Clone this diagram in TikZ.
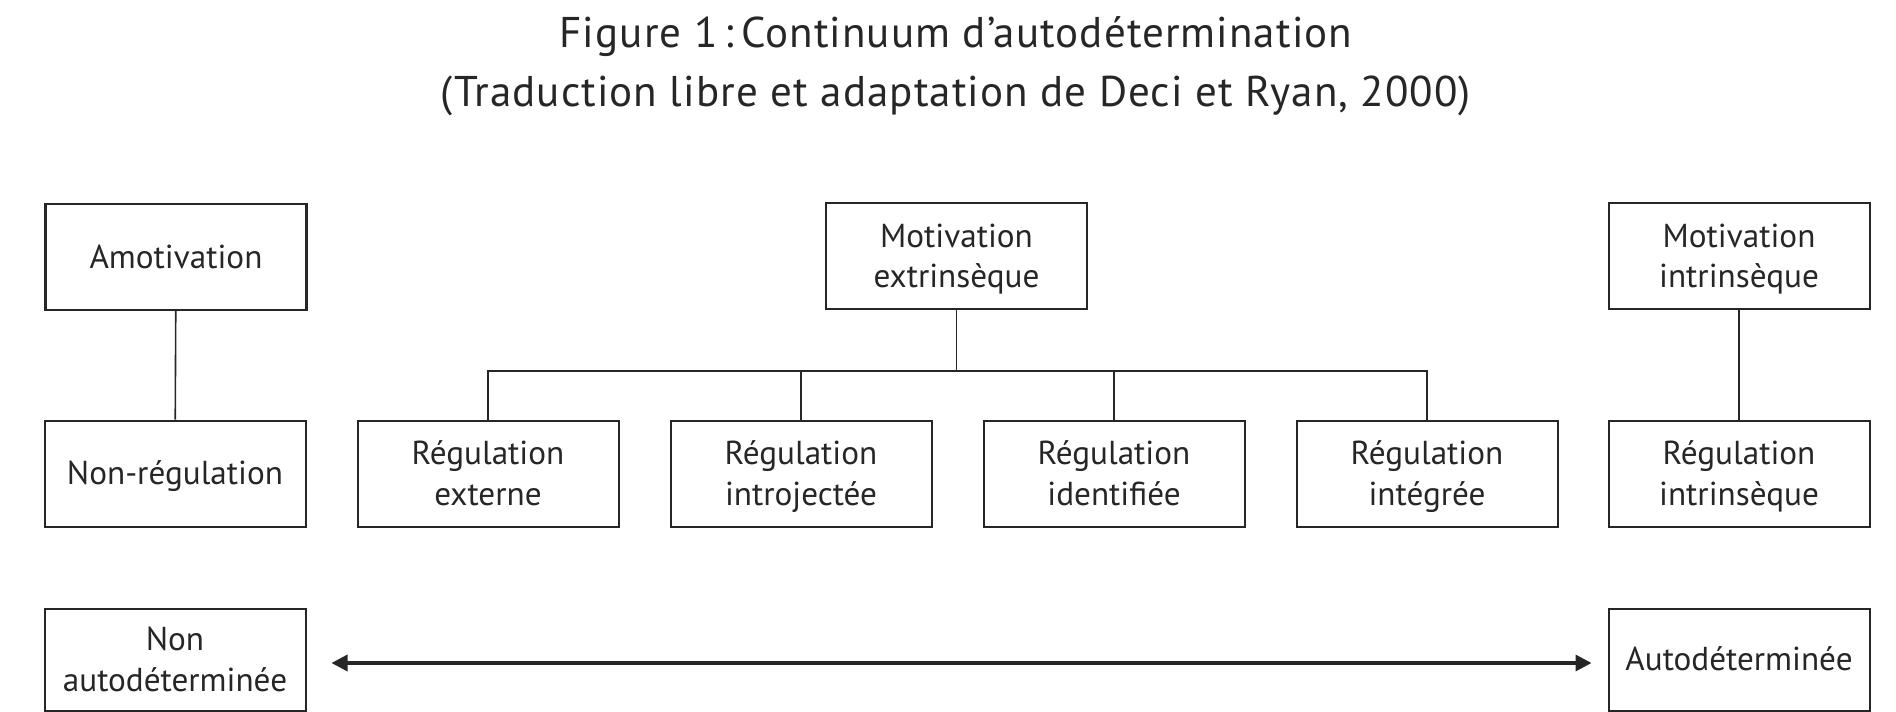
\documentclass[tikz,border=0pt]{standalone}
\usepackage{fontspec}
\setmainfont{PT Sans}
\newfontfamily\titlefont[LetterSpace=2.5]{PT Sans}
\usetikzlibrary{arrows.meta}
\definecolor{ink}{HTML}{262626}
% line strut, a little more above the baseline than below
\newcommand\vstrut{\rule[-0.22\baselineskip]{0pt}{\baselineskip}}
\newcommand\lines[2]{\vstrut#1\\\vstrut#2}
\begin{document}
\begin{tikzpicture}[x=0.5pt,y=-0.5pt,
  box/.style={draw=ink, line width=1pt, rectangle, minimum width=130.5pt,
    minimum height=53pt, align=center, text=ink,
    font=\fontsize{16.6}{20.3}\selectfont, inner sep=0pt},
  link/.style={draw=ink, line width=0.8pt},
  title/.style={text=ink, font=\titlefont\fontsize{21.5}{30}\selectfont, anchor=base}]
\useasboundingbox (0,0) rectangle (1896,712);

% heading, two centred lines
\node[title] (head1) at (956,47) {Figure 1\,:\,Continuum d’autodétermination};
\node[title] (head2) at (956,106) {(Traduction libre et adaptation de Deci et Ryan, 2000)};

% top row
\node[box, line width=1.2pt] (amot) at (176,257) {\vstrut Amotivation};
\node[box] (mext) at (956.5,256) {\lines{Motivation}{extrinsèque}};
\node[box] (mint) at (1739,256) {\lines{Motivation}{intrinsèque}};

% regulation row
\node[box] (nreg) at (175,473.5) {\vstrut Non-régulation};
\node[box] (rext) at (488,473.5) {\lines{Régulation}{externe}};
\node[box] (rintro) at (801,473.5) {\lines{Régulation}{introjectée}};
\node[box] (rident) at (1114,473.5) {\lines{Régulation}{identifiée}};
\node[box] (rinteg) at (1427,473.5) {\lines{Régulation}{intégrée}};
\node[box] (rintr) at (1739,473.5) {\lines{Régulation}{intrinsèque}};

% continuum row
\node[box, minimum height=51pt] (nauto) at (175,659.5) {\lines{Non}{autodéterminée}};
\node[box, minimum height=51pt] (auto) at (1739,659.5) {\vstrut Autodéterminée};

% tree connectors
\coordinate (bar) at (0,371);
\draw[link] (amot) -- (nreg);
\draw[link] (mint) -- (rintr);
\draw[link] (mext.south) -- (mext.south |- bar);
\draw[link] (rext.north) -- (rext.north |- bar) -- (rinteg.north |- bar) -- (rinteg.north);
\draw[link] (rintro.north) -- (rintro.north |- bar);
\draw[link] (rident.north) -- (rident.north |- bar);

% continuum arrow
\coordinate (axis) at (0,663);
\draw[draw=ink, line width=1.7pt, {Triangle[length=8pt,width=8pt]}-{Triangle[length=8pt,width=8pt]},
  shorten <=12.5pt, shorten >=8pt] (nauto.east |- axis) -- (auto.west |- axis);
\end{tikzpicture}
\end{document}
